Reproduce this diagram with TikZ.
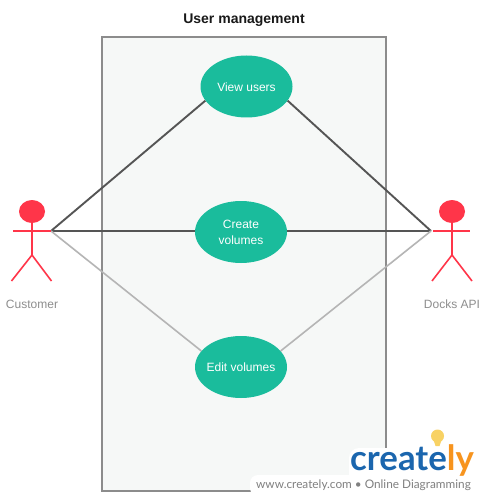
\documentclass[tikz,border=0pt]{standalone}
\usepackage{fontspec}
\setmainfont{Liberation Sans}
\newfontfamily\logofont{Lato}
\usetikzlibrary{shapes.geometric}
\definecolor{boxfill}{HTML}{F6F8F7}
\definecolor{boxline}{HTML}{8C8C8C}
\definecolor{teal}{HTML}{1ABC9C}
\definecolor{redact}{HTML}{FF3549}
\definecolor{darkedge}{HTML}{555555}
\definecolor{lightedge}{HTML}{B5B5B5}
\definecolor{labelgray}{HTML}{8E8E8E}
\definecolor{logoblue}{HTML}{1B66AE}
\definecolor{logoorange}{HTML}{F7941E}
\definecolor{bulb}{HTML}{F8D264}
\tikzset{
  x=1pt,y=-1pt,
  usecase/.style={ellipse,fill=teal,text=white,minimum width=92pt,minimum height=62pt,inner sep=-8pt,align=center,font=\fontsize{12}{16}\selectfont},
  limb/.style={draw=redact,line width=1.6pt},
  head/.style={ellipse,fill=redact,minimum width=26pt,minimum height=23pt,inner sep=0pt},
  actorlabel/.style={text=labelgray,font=\fontsize{12}{14}\selectfont},
  darkline/.style={draw=darkedge,line width=1.9pt},
  lightline/.style={draw=lightedge,line width=1.6pt},
}
\begin{document}
\begin{tikzpicture}
\useasboundingbox (0,0) rectangle (485,500);
\fill[white] (0,0) rectangle (485,500);
\node[draw=boxline,fill=boxfill,line width=2pt,minimum width=284pt,minimum height=454pt,inner sep=0pt] (system) at (244,264) {};
\node[font=\bfseries\fontsize{14}{16}\selectfont,text=black!90] (title) at (244,20.3) {User management};
\node[usecase,text depth=0pt,yshift=0pt] (view) at (246.5,86.5) {\raisebox{-0.7pt}{View users}};
\node[usecase] (create) at (241,232) {Create\\volumes};
\node[usecase] (edit) at (241,367) {Edit volumes};
\coordinate (hubL) at (51,231);
\coordinate (hubR) at (431,231);
\draw[darkline] (hubL) -- (view.199);
\draw[darkline] (hubL) -- (hubL -| create.west);
\draw[lightline] (hubL) -- (edit.158);
\draw[darkline] (hubR) -- (view.341);
\draw[darkline] (hubR) -- (hubR -| create.east);
\draw[lightline] (hubR) -- (edit.22);
% left actor
\node[head] (headL) at (32,211.5) {};
\coordinate (hipL) at (32,255);
\coordinate (armLa) at (13,231);
\coordinate (footLa) at (11.5,281);
\coordinate (footLb) at (51.5,281);
\draw[limb] (headL) -- (hipL);
\draw[limb] (armLa) -- (hubL);
\draw[limb] (footLa) -- (hipL) -- (footLb);
\node[actorlabel] (customer) at (32,304) {Customer};
% right actor
\node[head] (headR) at (452,211.5) {};
\coordinate (hipR) at (452,255);
\coordinate (armRa) at (433,231);
\coordinate (armRb) at (470,231);
\coordinate (footRa) at (432,281);
\coordinate (footRb) at (472,281);
\draw[limb] (headR) -- (hipR);
\draw[limb] (armRa) -- (armRb);
\draw[limb] (footRa) -- (hipR) -- (footRb);
\node[actorlabel] (docks) at (452,304) {Docks API};
% logo
\fill[white,rounded corners=8pt] (250,475) rectangle (480,496);
\fill[white,rounded corners=10pt] (349,448) rectangle (476,484);
\fill[bulb] (437.5,436) circle (6.5);
\fill[bulb] (433.5,440) -- (441.5,440) -- (439.5,446) -- (435.5,446) -- cycle;
\node[anchor=base west,inner sep=0pt,font=\logofont\bfseries\fontsize{34.8}{36}\selectfont] (logo) at (350,470.5) {\textcolor{logoblue}{create}\textcolor{logoorange}{ly}};
\node[anchor=base west,inner sep=0pt,text=labelgray!90!black,font=\logofont\fontsize{11.8}{14}\selectfont] (footer) at (256,488) {www.creately.com • Online Diagramming};
\end{tikzpicture}
\end{document}
